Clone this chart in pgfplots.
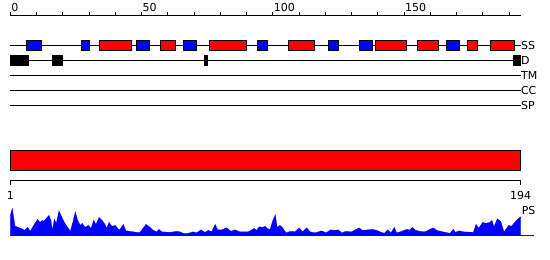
\documentclass[border=0pt]{standalone}
\usepackage{pgfplots}
\pgfplotsset{compat=1.18}
\usepackage{fontspec}
\setmainfont{DejaVu Sans}
\newcommand{\trackbox}[5]{\addplot[fill=#5, draw=black, line width=0.8pt] coordinates {(#1,#3) (#2,#3) (#2,#4) (#1,#4)} -- cycle;}
\begin{document}
\fontsize{11pt}{13pt}\selectfont
\begin{tikzpicture}[x=1pt,y=1pt]
% ---------- main tracks axis (y in pixel rows, reversed) ----------
\begin{axis}[name=main, at={(0,0)}, anchor=south west, scale only axis,
  width=550pt, height=260pt, xmin=-3.924, xmax=205.6, ymin=0, ymax=260,
  y dir=reverse, axis lines=none, clip=false]
% track lines
\addplot[black, line width=0.9pt] coordinates {(0,45.3) (194.4,45.3)};
\addplot[black, line width=0.9pt] coordinates {(0,60.3) (194.4,60.3)};
\addplot[black, line width=0.9pt] coordinates {(0,75.3) (194.4,75.3)};
\addplot[black, line width=0.9pt] coordinates {(0,90.3) (194.4,90.3)};
\addplot[black, line width=0.9pt] coordinates {(0,105.3) (194.4,105.3)};
% SS elements
\trackbox{6}{12}{40.2}{50.5}{blue}
\trackbox{27}{30}{40.2}{50.5}{blue}
\trackbox{34}{46}{40.2}{50.5}{red}
\trackbox{48}{53}{40.2}{50.5}{blue}
\trackbox{57}{63}{40.2}{50.5}{red}
\trackbox{66}{71}{40.2}{50.5}{blue}
\trackbox{76}{90}{40.2}{50.5}{red}
\trackbox{94}{98}{40.2}{50.5}{blue}
\trackbox{106}{116}{40.2}{50.5}{red}
\trackbox{121}{125}{40.2}{50.5}{blue}
\trackbox{133}{138}{40.2}{50.5}{blue}
\trackbox{139}{151}{40.2}{50.5}{red}
\trackbox{155}{163}{40.2}{50.5}{red}
\trackbox{166}{171}{40.2}{50.5}{blue}
\trackbox{174}{178}{40.2}{50.5}{red}
\trackbox{183}{192}{40.2}{50.5}{red}
% D elements
\trackbox{0}{7}{55.2}{65.5}{black}
\trackbox{16}{20}{55.2}{65.5}{black}
\trackbox{74}{75.2}{55.2}{65.5}{black}
\trackbox{191.7}{194.4}{55.2}{65.5}{black}
% full-length bar
\trackbox{0}{194.4}{150.2}{170.5}{red}
% labels
\node[anchor=base west, inner sep=0pt] at (axis cs:194.5,49.1) {SS};
\node[anchor=base west, inner sep=0pt] at (axis cs:194.5,64.1) {D};
\node[anchor=base west, inner sep=0pt] at (axis cs:194.5,79.1) {TM};
\node[anchor=base west, inner sep=0pt] at (axis cs:194.5,94.1) {CC};
\node[anchor=base west, inner sep=0pt] at (axis cs:194.5,109.1) {SP};
\end{axis}
% ---------- top ruler ----------
\begin{axis}[at={(10.3pt,245pt)}, anchor=north west, scale only axis,
  width=510.3pt, height=5pt, xmin=0, xmax=194.4, ymin=0, ymax=1,
  axis x line=top, axis y line=none,
  every outer x axis line/.append style={-}, x axis line style={-, line width=0.9pt},
  xtick={0,50,100,150}, xticklabels={0,50,100,150},
  minor xtick={10,20,30,40,60,70,80,90,110,120,130,140,160,170,180,190},
  tick align=outside, major tick length=3pt, minor tick length=3pt,
  tick style={black, line width=0.8pt},
  xticklabel style={anchor=base west, inner sep=0pt, xshift=0.8pt, yshift=0.5pt, font=\fontsize{11pt}{13pt}\selectfont}]
\addplot[draw=none] coordinates {(0,0)};
\end{axis}
% ---------- bottom ruler ----------
\begin{axis}[at={(10.3pt,79.7pt)}, anchor=south west, scale only axis,
  width=510.3pt, height=5pt, xmin=0, xmax=194.4, ymin=0, ymax=1,
  axis x line=bottom, axis y line=none,
  every outer x axis line/.append style={-}, x axis line style={-, line width=0.9pt},
  xtick={0,194.4}, xticklabels={1,194},
  tick align=outside, major tick length=4.7pt,
  tick style={black, line width=0.8pt},
  xticklabel style={anchor=north, inner sep=0pt, yshift=-6.5pt}]
\addplot[draw=none] coordinates {(0,1)};
\end{axis}
% ---------- profile ----------
\begin{axis}[at={(0,24.7pt)}, anchor=south west, scale only axis,
  width=550pt, height=40pt, xmin=-3.924, xmax=205.6, ymin=0, ymax=40,
  axis lines=none, clip=false]
\addplot[blue, line width=0.8pt] coordinates {(0,0) (199.5,0)};
\addplot[fill=blue, draw=blue, line width=0.2pt] table {
x y
0 20
0.76 27
1.79 9.3
2.93 8
4.46 6.5
5.41 5
6.63 8
7.62 4
8.65 9
9.41 12
10.44 16
11.31 13
12.19 15
12.84 14
13.71 17
14.74 20
15.50 15
16.0 5
16.76 16
17.52 12
18.55 24.5
19.31 20
20.57 13
22.10 7
22.86 4
23.89 14
24.76 23.5
25.68 15
26.67 10
27.43 12
28.46 8
29.71 10
30.74 7
31.77 15
32.65 11
33.79 18
34.93 15
36.08 11
36.72 7
37.60 13
38.74 9
40.0 10
41.52 5
43.05 11
44.08 4.5
45.60 4
48.15 3
49.41 3
51.70 11
53.22 8
54.48 5
55.77 3.5
56.65 6
57.68 3.5
60.84 3
63.50 4
64.65 3.5
65.90 2
67.70 2
69.71 3.5
71.01 2.5
72.65 5.5
74.17 3
75.43 5
76.72 3.5
78.02 11
79.01 5.5
80.53 5.5
82.44 7.5
84.08 4
85.60 5.5
87.47 3.5
90.67 3.5
92.95 7
93.87 5
94.74 8.5
96.0 8
97.03 9
97.68 7.5
98.93 5.5
99.96 14.5
100.95 20.7
101.71 8
102.74 10
103.77 7.5
105.03 2.5
106.82 4
108.46 3.7
110.10 7.5
111.39 3.5
112.91 7.5
114.17 3.5
116.08 2.5
118.63 4.5
120.27 2.5
122.06 5.5
123.70 5
124.95 5.5
126.25 2.5
127.89 4
130.06 3.5
132.84 7.5
134.10 5
136.38 5.5
137.90 6
139.58 5
140.84 3.5
142.48 2
143.77 5.5
145.03 2.5
146.29 8
147.20 2.5
149.10 4
151.01 6
152.27 5.5
153.14 8
154.44 5
156.08 4
157.98 3.5
159.89 6
161.14 7.5
162.44 5
165.60 3
167.50 2
168.76 6
169.52 3
171.05 4.5
172.57 3.5
176.38 3
177.41 11
178.44 7
179.96 13
181.22 12
182.74 13
183.50 15
184.27 8.5
185.52 16.5
186.82 14
188.08 3.5
189.87 10
190.86 9
191.89 12
193.14 16
194.44 18.5
} \closedcycle;
\node[anchor=base west, inner sep=0pt] at (axis cs:194.8,20.3) {PS};
\end{axis}
\pgfresetboundingbox
\useasboundingbox (main.south west) rectangle (main.north east);
\end{tikzpicture}
\end{document}
